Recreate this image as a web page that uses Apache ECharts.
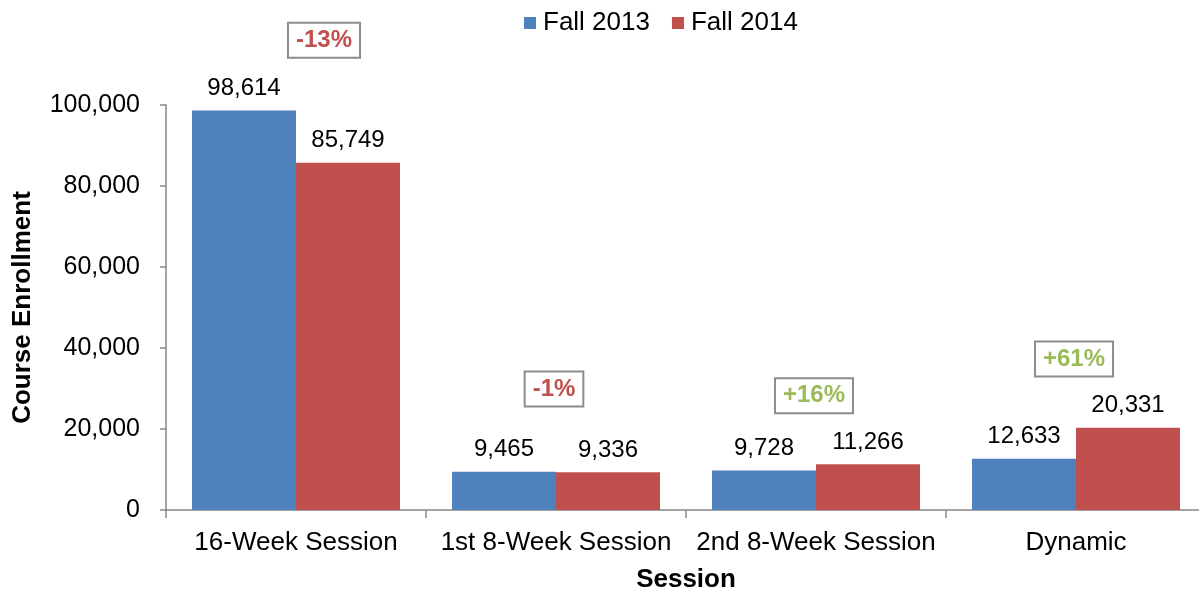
<!DOCTYPE html>
<html>
<head>
<meta charset="utf-8">
<script src="https://cdn.jsdelivr.net/npm/echarts@6/dist/echarts.min.js"></script>
<style>
  html, body { margin: 0; padding: 0; background: #fff; }
  #chart { width: 1199px; height: 592px; }
</style>
</head>
<body>
<div id="chart"></div>
<script>
// categories and values
var sessions = ['16-Week Session', '1st 8-Week Session', '2nd 8-Week Session', 'Dynamic'];
var fall2013 = [98614, 9465, 9728, 12633];
var fall2014 = [85749, 9336, 11266, 20331];

// percent change boxes: text, height on the value scale, colour
var changeText = ['-13%', '-1%', '+16%', '+61%'];
var changeAt = [116000, 29900, 28200, 37300];
var changeColor = ['#C0504D', '#C0504D', '#9BBB59', '#9BBB59'];

var yTicks = [0, 20000, 40000, 60000, 80000, 100000];

var FONT = 'Liberation Sans, Arial, sans-serif';

var CHART = {
    init: function(){
        var _this = this;
        var myChart = echarts.init(document.getElementById('chart'));
        myChart.setOption(_this.build_option());
    },
    bar_series: function(name, data, color){
        return {
            name: name,
            type: 'bar',
            data: data,
            barGap: '0%',
            barCategoryGap: '20%',
            itemStyle: { color: color },
            label: {
                show: true,
                position: 'top',
                distance: 10,
                color: '#000',
                fontFamily: FONT,
                fontSize: 24,
                formatter: function(p){ return echarts.format.addCommas(p.value); }
            }
        };
    },
    change_series: function(){
        var pts = [];
        for (var i = 0; i < sessions.length; i++) {
            pts.push({
                value: [i, changeAt[i]],
                label: {
                    color: changeColor[i],
                    offset: i == 0 ? [28, 0] : [-2, 0]
                }
            });
        }
        return {
            name: 'change',
            type: 'scatter',
            symbolSize: 0,
            itemStyle: { color: '#fff', opacity: 1 },
            clip: false,
            silent: true,
            data: pts,
            label: {
                show: true,
                position: 'inside',
                fontFamily: FONT,
                fontWeight: 'bold',
                fontSize: 24,
                borderColor: '#8c8c8c',
                borderWidth: 2,
                backgroundColor: '#fff',
                padding: [5, 7, 4, 7],
                formatter: function(p){ return changeText[p.dataIndex]; }
            }
        };
    },
    build_option: function(){
        var _this = this;
        var option = {
            backgroundColor: '#fff',
            animation: false,
            legend: {
                data: ['Fall 2013', 'Fall 2014'],
                left: 519,
                top: 5,
                itemWidth: 12,
                itemHeight: 12,
                itemGap: 22,
                icon: 'rect',
                textStyle: { fontFamily: FONT, fontSize: 26, color: '#000', padding: [0, 0, 0, 2] }
            },
            grid: { left: 166, right: -7, top: 105, bottom: 82, outerBoundsMode: 'none' },
            xAxis: {
                type: 'category',
                data: sessions,
                name: 'Session',
                nameLocation: 'middle',
                nameGap: 57,
                nameTextStyle: { fontFamily: FONT, fontWeight: 'bold', fontSize: 26, color: '#000', verticalAlign: 'top' },
                axisLine: { lineStyle: { color: '#868686', width: 1.5 } },
                axisTick: { show: true, length: 8, lineStyle: { color: '#868686', width: 1.5 } },
                axisLabel: { interval: 0, fontFamily: FONT, fontSize: 26, color: '#000', margin: 20 }
            },
            yAxis: {
                type: 'value',
                min: 0,
                max: 100000,
                interval: 20000,
                name: 'Course Enrollment',
                nameLocation: 'middle',
                nameGap: 130,
                nameTextStyle: { fontFamily: FONT, fontWeight: 'bold', fontSize: 26, color: '#000' },
                axisLine: { show: true, lineStyle: { color: '#868686', width: 1.5 } },
                axisTick: { show: true, length: 6, lineStyle: { color: '#868686', width: 1.5 } },
                splitLine: { show: false },
                axisLabel: {
                    fontFamily: FONT, fontSize: 25, color: '#000', margin: 26,
                    formatter: function(v){ return yTicks.indexOf(v) >= 0 ? echarts.format.addCommas(v) : ''; }
                }
            },
            series: [
                _this.bar_series('Fall 2013', fall2013, '#4F81BD'),
                _this.bar_series('Fall 2014', fall2014, '#C0504D'),
                _this.change_series()
            ]
        };
        return option;
    }
};

CHART.init();
</script>
</body>
</html>
